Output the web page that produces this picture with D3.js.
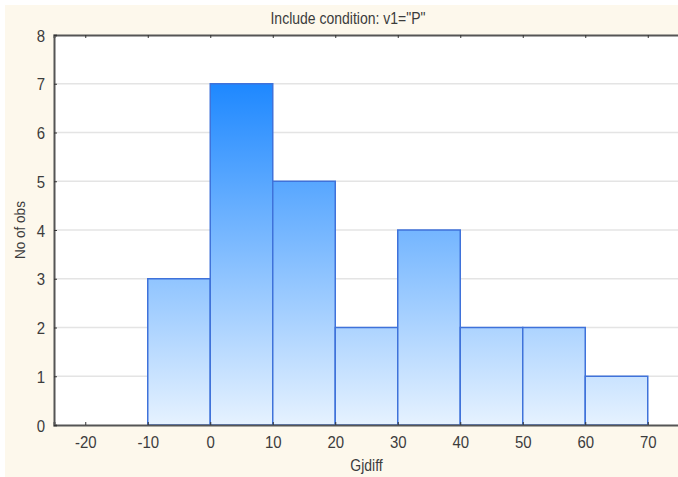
<!DOCTYPE html>
<html>
<head>
<meta charset="utf-8">
<script src="https://cdn.jsdelivr.net/npm/d3@7/dist/d3.min.js"></script>
<style>
  html, body { margin: 0; padding: 0; background: #ffffff; }
  svg { display: block; }
  text { font-family: "Liberation Sans", Arial, sans-serif; fill: #3c3c3c; }
</style>
</head>
<body>
<svg id="chart" width="678" height="477"></svg>
<script>
// Histogram of Gjdiff: bin edges and counts
const binStarts = [-10, 0, 10, 20, 30, 40, 50, 60];
const binWidth = 10;
const counts = [3, 7, 5, 2, 4, 2, 2, 1];
const xTicks = [-20, -10, 0, 10, 20, 30, 40, 50, 60, 70];
const yTicks = [0, 1, 2, 3, 4, 5, 6, 7, 8];
const titleText = 'Include condition: v1="P"';
const xLabel = "Gjdiff";
const yLabel = "No of obs";

const svg = d3.select("#chart");
const W = 678, H = 477;
const margin = { left: 54, top: 35, right: -1, bottom: 52 };
const FONT = '"Liberation Sans", Arial, sans-serif';
const STRETCH = 1.12; // slightly tall lettering

// Panel background
svg.append("rect")
  .attr("x", 5).attr("y", 5)
  .attr("width", W - 5).attr("height", H - 5)
  .attr("fill", "#fdf8ec");

const x = d3.scaleLinear().domain([-25, 75]).range([margin.left, W - margin.right]);
const y = d3.scaleLinear().domain([0, 8]).range([H - margin.bottom, margin.top]);

// Plot area
svg.append("rect")
  .attr("x", x(-25)).attr("y", y(8))
  .attr("width", x(75) - x(-25)).attr("height", y(0) - y(8))
  .attr("fill", "#ffffff");

// Vertical fill gradient shared by all bars
const defs = svg.append("defs");
const grad = defs.append("linearGradient")
  .attr("id", "barFill")
  .attr("gradientUnits", "userSpaceOnUse")
  .attr("x1", 0).attr("x2", 0)
  .attr("y1", y(7)).attr("y2", y(0));
grad.append("stop").attr("offset", 0).attr("stop-color", "#1e88ff");
grad.append("stop").attr("offset", 1).attr("stop-color", "#e6f2ff");

// Horizontal gridlines
svg.append("g")
  .selectAll("line")
  .data(yTicks.filter(t => t > 0 && t < 8))
  .join("line")
  .attr("x1", x(-25)).attr("x2", x(75))
  .attr("y1", d => y(d)).attr("y2", d => y(d))
  .attr("stroke", "#e4e4e4")
  .attr("stroke-width", 1.5);

// Bars
svg.append("g")
  .selectAll("rect")
  .data(binStarts.map((s, i) => ({ s, c: counts[i] })))
  .join("rect")
  .attr("x", d => x(d.s))
  .attr("y", d => y(d.c))
  .attr("width", d => x(d.s + binWidth) - x(d.s))
  .attr("height", d => y(0) - y(d.c))
  .attr("fill", "url(#barFill)")
  .attr("stroke", "#3f72da")
  .attr("stroke-width", 1.5);

// Bottom axis
const xAxis = svg.append("g")
  .attr("transform", `translate(0,${y(0)})`)
  .call(d3.axisBottom(x).tickValues(xTicks).tickSize(-3).tickFormat(d => String(d)));
xAxis.select(".domain").attr("stroke", "#555").attr("stroke-width", 2);
xAxis.selectAll(".tick line").attr("stroke", "#333");
xAxis.selectAll("text")
  .attr("y", 0).attr("dy", 0)
  .attr("transform", `translate(0,23) scale(1,${STRETCH})`)
  .attr("font-size", 15).attr("fill", "#3c3c3c").style("font-family", FONT);

// Top frame with inward ticks
const xTop = svg.append("g")
  .attr("transform", `translate(0,${y(8)})`)
  .call(d3.axisTop(x).tickValues(xTicks).tickSize(-3).tickFormat(""));
xTop.select(".domain").attr("stroke", "#555").attr("stroke-width", 2);
xTop.selectAll(".tick line").attr("stroke", "#333");

// Left axis
const yAxis = svg.append("g")
  .attr("transform", `translate(${x(-25)},0)`)
  .call(d3.axisLeft(y).tickValues(yTicks).tickSize(-3).tickFormat(d => String(d)));
yAxis.select(".domain").attr("stroke", "#555").attr("stroke-width", 2);
yAxis.selectAll(".tick line").attr("stroke", "#333");
yAxis.selectAll("text")
  .attr("x", 0).attr("dy", 0)
  .attr("transform", `translate(-9,6) scale(1,${STRETCH})`)
  .attr("font-size", 15).attr("fill", "#3c3c3c").style("font-family", FONT);

// Title and axis labels
svg.append("text")
  .attr("transform", `translate(348,24) scale(1,${STRETCH})`)
  .attr("text-anchor", "middle")
  .attr("font-size", 14)
  .text(titleText);

svg.append("text")
  .attr("transform", `translate(${(x(-25) + x(75)) / 2},471) scale(1,${STRETCH})`)
  .attr("text-anchor", "middle")
  .attr("font-size", 14)
  .text(xLabel);

svg.append("text")
  .attr("transform", `translate(25,${(y(0) + y(8)) / 2}) rotate(-90) scale(1,${STRETCH})`)
  .attr("text-anchor", "middle")
  .attr("font-size", 13.5)
  .text(yLabel);
</script>
</body>
</html>
